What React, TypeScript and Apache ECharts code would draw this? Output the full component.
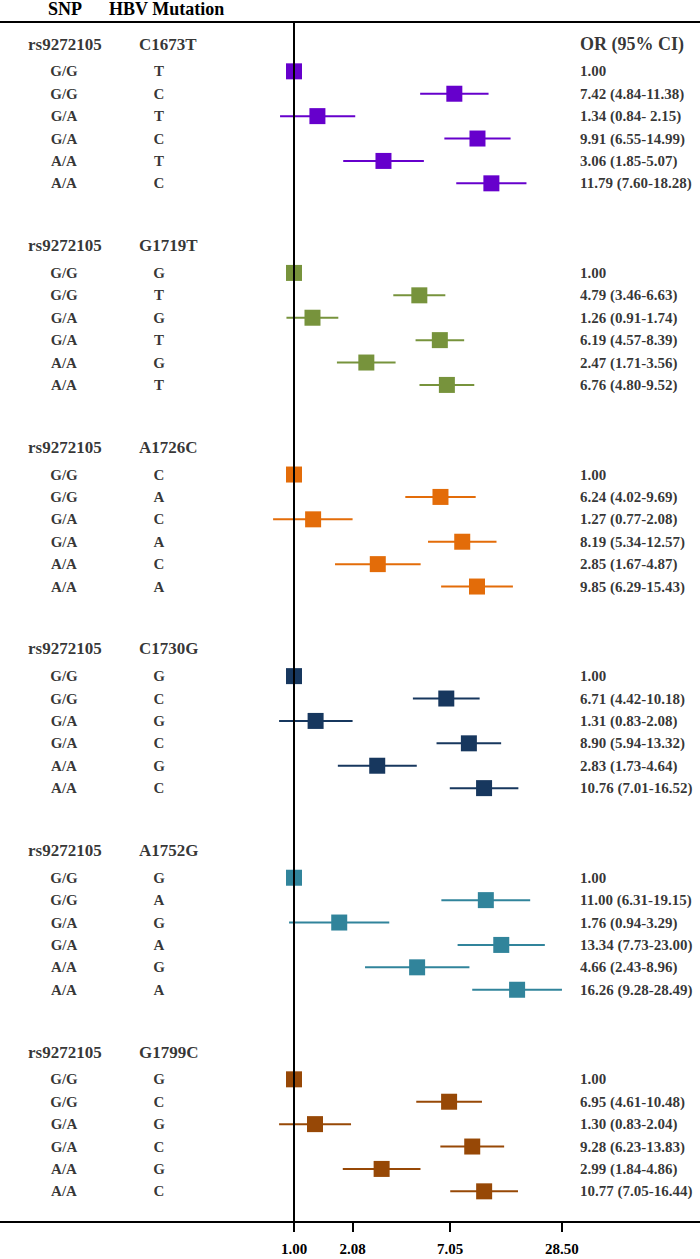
import React, { useEffect, useRef } from 'react';
import * as echarts from 'echarts';

// ---------------- data ----------------
const snpIds = ['rs9272105', 'rs9272105', 'rs9272105', 'rs9272105', 'rs9272105', 'rs9272105'];
const mutations = ['C1673T', 'G1719T', 'A1726C', 'C1730G', 'A1752G', 'G1799C'];
const genotypes = ['G/G', 'G/G', 'G/A', 'G/A', 'A/A', 'A/A'];
const alleles = [
  ['T', 'C', 'T', 'C', 'T', 'C'],
  ['G', 'T', 'G', 'T', 'G', 'T'],
  ['C', 'A', 'C', 'A', 'C', 'A'],
  ['G', 'C', 'G', 'C', 'G', 'C'],
  ['G', 'A', 'G', 'A', 'G', 'A'],
  ['G', 'C', 'G', 'C', 'G', 'C'],
];
const orValues = [
  [1.0, 7.42, 1.34, 9.91, 3.06, 11.79],
  [1.0, 4.79, 1.26, 6.19, 2.47, 6.76],
  [1.0, 6.24, 1.27, 8.19, 2.85, 9.85],
  [1.0, 6.71, 1.31, 8.9, 2.83, 10.76],
  [1.0, 11.0, 1.76, 13.34, 4.66, 16.26],
  [1.0, 6.95, 1.3, 9.28, 2.99, 10.77],
];
const ciLower = [
  [null, 4.84, 0.84, 6.55, 1.85, 7.6],
  [null, 3.46, 0.91, 4.57, 1.71, 4.8],
  [null, 4.02, 0.77, 5.34, 1.67, 6.29],
  [null, 4.42, 0.83, 5.94, 1.73, 7.01],
  [null, 6.31, 0.94, 7.73, 2.43, 9.28],
  [null, 4.61, 0.83, 6.23, 1.84, 7.05],
];
const ciUpper = [
  [null, 11.38, 2.15, 14.99, 5.07, 18.28],
  [null, 6.63, 1.74, 8.39, 3.56, 9.52],
  [null, 9.69, 2.08, 12.57, 4.87, 15.43],
  [null, 10.18, 2.08, 13.32, 4.64, 16.52],
  [null, 19.15, 3.29, 23.0, 8.96, 28.49],
  [null, 10.48, 2.04, 13.83, 4.86, 16.44],
];
// the reference prints "0.84- 2.15" for this one row
const ciDash = [
  ['-', '-', '- ', '-', '-', '-'],
  ['-', '-', '-', '-', '-', '-'],
  ['-', '-', '-', '-', '-', '-'],
  ['-', '-', '-', '-', '-', '-'],
  ['-', '-', '-', '-', '-', '-'],
  ['-', '-', '-', '-', '-', '-'],
];
const xTickValues = [1.0, 2.08, 7.05, 28.5];
const headerTitles = ['SNP', 'HBV Mutation'];
const orHeader = 'OR (95% CI)';

// ---------------- layout / style ----------------
const W = 700;
const H = 1259;
const FONT = "'Times New Roman', 'Liberation Serif', serif";
const groupColors = ['#6600CC', '#77933C', '#E36C09', '#17375E', '#31849B', '#974806'];
const GRID_TOP = 22;
const GRID_BOTTOM = 37;
const FIRST_ROW_PX = 44;
const ROW_PX = 22.4;
const ROWS_PER_GROUP = 9;
const HEADER_GAP = 1.22;
const ORIGIN_PX = 294;
const PX_PER_LN = 80;
const COL_SNP = 28;
const COL_GENO = 64;
const COL_MUT = 139;
const COL_ALLELE = 159;
const COL_OR = 580;
const SQ = 16;

const groupRow = (g: number) => g * ROWS_PER_GROUP;
const dataRow = (g: number, i: number) => g * ROWS_PER_GROUP + HEADER_GAP + i;

export default function App() {
  const ref = useRef<HTMLDivElement>(null);

  useEffect(() => {
    document.body.style.margin = '0';
    if (!ref.current) return;
    const chart = echarts.init(ref.current, null, { renderer: 'svg' });

    const gridH = H - GRID_TOP - GRID_BOTTOM;
    const yMin = (GRID_TOP - FIRST_ROW_PX) / ROW_PX;
    const yMax = (GRID_TOP + gridH - FIRST_ROW_PX) / ROW_PX;
    const xMin = Math.exp(-ORIGIN_PX / PX_PER_LN);
    const xMax = Math.exp((W - ORIGIN_PX) / PX_PER_LN);

    const fmt = (v: number) => v.toFixed(2);

    const markSeries = orValues.map((row, g) => {
      const color = groupColors[g];
      return {
        type: 'custom',
        xAxisIndex: 0,
        yAxisIndex: 0,
        silent: true,
        encode: { x: [0, 1, 2], y: 3 },
        data: row.map((or, i) => {
          const lo = ciLower[g][i];
          const hi = ciUpper[g][i];
          return [or, lo == null ? or : lo, hi == null ? or : hi, dataRow(g, i), lo == null ? 0 : 1];
        }),
        renderItem: (params: any, api: any) => {
          const or = api.value(0);
          const lo = api.value(1);
          const hi = api.value(2);
          const u = api.value(3);
          const has = api.value(4);
          const c = api.coord([or, u]);
          const children: any[] = [];
          if (has) {
            const a = api.coord([lo, u]);
            const b = api.coord([hi, u]);
            children.push({
              type: 'line',
              shape: { x1: a[0], y1: a[1], x2: b[0], y2: b[1] },
              style: { stroke: color, lineWidth: 2 },
            });
          }
          children.push({
            type: 'rect',
            shape: { x: c[0] - SQ / 2, y: c[1] - SQ / 2, width: SQ, height: SQ },
            style: { fill: color },
          });
          return { type: 'group', children };
        },
        markLine:
          g === 0
            ? {
                silent: true,
                symbol: 'none',
                label: { show: false },
                lineStyle: { color: '#000', width: 2, type: 'solid' },
                data: [{ xAxis: 1 }],
              }
            : undefined,
        z: 3,
      };
    });

    const textSeries = (items: any[], align: string, size: number) => ({
      type: 'scatter',
      xAxisIndex: 1,
      yAxisIndex: 0,
      silent: true,
      symbolSize: 1,
      itemStyle: { color: 'rgba(0,0,0,0)' },
      label: {
        show: true,
        position: 'inside',
        align,
        verticalAlign: 'middle',
        color: '#000',
        fontWeight: 'bold',
        fontFamily: FONT,
        fontSize: size,
        formatter: (p: any) => p.data.text,
      },
      data: items,
      z: 4,
    });

    const snpHeads: any[] = [];
    const mutHeads: any[] = [];
    const genoItems: any[] = [];
    const alleleItems: any[] = [];
    const orItems: any[] = [];
    mutations.forEach((m, g) => {
      snpHeads.push({ value: [COL_SNP, groupRow(g)], text: snpIds[g] });
      mutHeads.push({ value: [COL_MUT, groupRow(g)], text: m });
      genotypes.forEach((gt, i) => {
        genoItems.push({ value: [COL_GENO, dataRow(g, i)], text: gt });
        alleleItems.push({ value: [COL_ALLELE, dataRow(g, i)], text: alleles[g][i] });
        const or = orValues[g][i];
        const lo = ciLower[g][i];
        const hi = ciUpper[g][i];
        const t = lo == null || hi == null ? fmt(or) : `${fmt(or)} (${fmt(lo)}${ciDash[g][i]}${fmt(hi)})`;
        orItems.push({ value: [COL_OR, dataRow(g, i)], text: t });
      });
    });
    const orHeadItems = [{ value: [COL_OR, groupRow(0)], text: orHeader }];

    const option: any = {
      animation: false,
      backgroundColor: '#fff',
      grid: { left: 0, right: 0, top: GRID_TOP, bottom: GRID_BOTTOM, containLabel: false },
      xAxis: [
        {
          type: 'log',
          logBase: Math.E,
          min: xMin,
          max: xMax,
          position: 'bottom',
          axisLine: { show: true, onZero: false, lineStyle: { color: '#000', width: 2 } },
          axisTick: { show: true, customValues: xTickValues, length: 10, lineStyle: { color: '#000', width: 2 } },
          axisLabel: {
            show: true,
            customValues: xTickValues,
            formatter: (v: number) => fmt(v),
            margin: 19,
            color: '#000',
            fontWeight: 'bold',
            fontFamily: FONT,
            fontSize: 15,
          },
          splitLine: { show: false },
          minorTick: { show: false },
        },
        {
          type: 'value',
          min: 0,
          max: W,
          position: 'top',
          axisLine: { show: true, onZero: false, lineStyle: { color: '#000', width: 2 } },
          axisTick: { show: false },
          axisLabel: { show: false },
          splitLine: { show: false },
        },
      ],
      yAxis: [
        {
          type: 'value',
          inverse: true,
          min: yMin,
          max: yMax,
          show: false,
          splitLine: { show: false },
        },
      ],
      graphic: [
        {
          type: 'text',
          x: 48,
          y: 9,
          style: { text: headerTitles[0], fontSize: 18, fontWeight: 'bold', fontFamily: FONT, fill: '#000', verticalAlign: 'middle' },
        },
        {
          type: 'text',
          x: 109,
          y: 9,
          style: { text: headerTitles[1], fontSize: 18, fontWeight: 'bold', fontFamily: FONT, fill: '#000', verticalAlign: 'middle' },
        },
      ],
      series: [
        ...markSeries,
        textSeries(snpHeads, 'left', 17),
        textSeries(mutHeads, 'left', 17),
        textSeries(genoItems, 'center', 15),
        textSeries(alleleItems, 'center', 15),
        textSeries(orItems, 'left', 15),
        textSeries(orHeadItems, 'left', 18),
      ],
    };

    chart.setOption(option);
    return () => chart.dispose();
  }, []);

  return <div ref={ref} style={{ width: W, height: H }} />;
}
